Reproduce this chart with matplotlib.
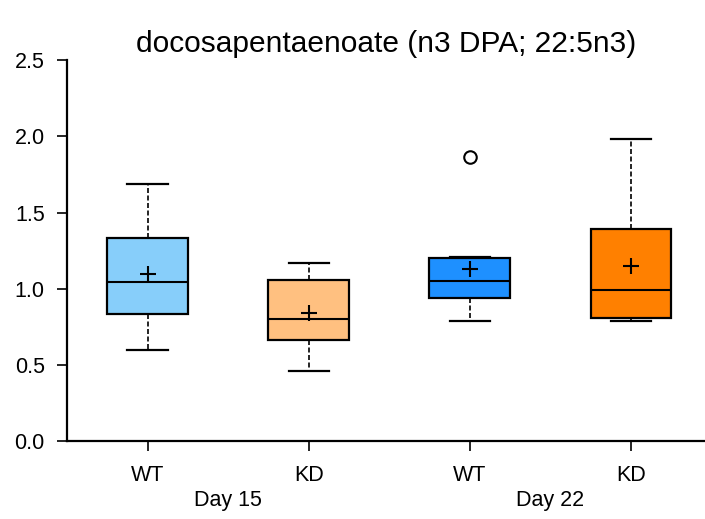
import matplotlib.pyplot as plt

plt.rcParams['font.family'] = ['Liberation Sans', 'DejaVu Sans']

groups = ['WT', 'KD', 'WT', 'KD']
days = ['Day 15', 'Day 22']
colors = ['#87CEFA', '#FFC080', '#1E90FF', '#FF8000']

whislo = [0.597, 0.459, 0.787, 0.787]
q1 = [0.833, 0.663, 0.938, 0.807]
med = [1.043, 0.800, 1.050, 0.990]
q3 = [1.332, 1.056, 1.200, 1.390]
whishi = [1.686, 1.168, 1.207, 1.980]
means = [1.094, 0.840, 1.129, 1.148]
fliers = [[], [], [1.863], []]

stats = []
for i in range(len(groups)):
    stats.append(dict(whislo=whislo[i], q1=q1[i], med=med[i], q3=q3[i],
                      whishi=whishi[i], mean=means[i], fliers=fliers[i]))

fig = plt.figure(figsize=(7.05, 5.19), dpi=100)
ax = fig.add_axes([0.095, 0.150, 0.905, 0.734])

positions = [1, 2, 3, 4]
bp = ax.bxp(stats, positions=positions, widths=0.5, patch_artist=True,
            showmeans=True, capwidths=0.25,
            boxprops=dict(linewidth=1.6, edgecolor='black'),
            medianprops=dict(color='black', linewidth=1.5),
            whiskerprops=dict(color='black', linewidth=1.2, linestyle=(0, (3, 1.5))),
            capprops=dict(color='black', linewidth=1.6),
            meanprops=dict(marker='+', markersize=11, markeredgecolor='black',
                           markeredgewidth=1.5),
            flierprops=dict(marker='o', markersize=9, markerfacecolor='none',
                            markeredgecolor='black', markeredgewidth=1.5))
for patch, c in zip(bp['boxes'], colors):
    patch.set_facecolor(c)

ax.set_xlim(0.5, 4.46)
ax.set_ylim(0, 2.5)
ax.set_yticks([0, 0.5, 1.0, 1.5, 2.0, 2.5])
ax.set_yticklabels(['0.0', '0.5', '1.0', '1.5', '2.0', '2.5'])
ax.set_xticks(positions)
ax.set_xticklabels(groups)
ax.tick_params(axis='both', labelsize=15.5, width=1.2, length=7)
ax.tick_params(axis='y', pad=9)
ax.tick_params(axis='x', pad=10)
ax.spines['top'].set_visible(False)
ax.spines['right'].set_visible(False)
ax.spines['left'].set_linewidth(1.6)
ax.spines['bottom'].set_linewidth(1.6)

for j, d in enumerate(days):
    ax.text(1.5 + 2 * j, -0.39, d, ha='center', va='center', fontsize=15.5,
            transform=ax.transData, clip_on=False)

ax.set_title('docosapentaenoate (n3 DPA; 22:5n3)', fontsize=21.5, pad=6)

fig.savefig('out.png', dpi=100)
